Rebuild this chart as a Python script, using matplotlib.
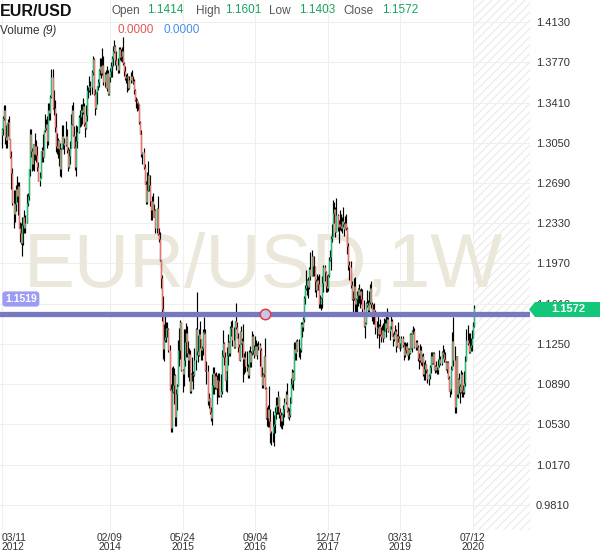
import numpy as np
import pandas as pd
import matplotlib
matplotlib.use("Agg")
import matplotlib.pyplot as plt
from matplotlib.patches import Polygon

plt.rcParams['font.family'] = ['Liberation Sans', 'DejaVu Sans']
plt.rcParams['hatch.linewidth'] = 0.7

# weekly EUR/USD candles, first week starts 2012-03-11
first_week = "2012-03-11"
first_open = 1.3115
last_open = 1.1414

highs = [
    # 2012
    1.3185, 1.3290, 1.3385, 1.3385, 1.3210, 1.3230, 1.3265, 1.3285, 1.3080, 1.2975, 1.2825, 1.2625, 1.2625, 1.2670, 1.2750,
    1.2695, 1.2695, 1.2345, 1.2330, 1.2390, 1.2390, 1.2445, 1.2400, 1.2590, 1.2600, 1.2815, 1.3170, 1.3170, 1.3000, 1.3040,
    1.3040, 1.3140, 1.3075, 1.3020, 1.2875, 1.2785, 1.2980, 1.3010, 1.3130, 1.3165, 1.3310, 1.3265, 1.3290,
    # 2013
    1.3405, 1.3405, 1.3480, 1.3710, 1.3710, 1.3520, 1.3435, 1.3320, 1.3135, 1.3095, 1.3075, 1.3050, 1.3000, 1.3205, 1.3210,
    1.3095, 1.3245, 1.3175, 1.3010, 1.2995, 1.3065, 1.3305, 1.3390, 1.3415, 1.3200, 1.3110, 1.3205, 1.3200, 1.3295, 1.3345,
    1.3395, 1.3400, 1.3450, 1.3410, 1.3235, 1.3385, 1.3570, 1.3545, 1.3645, 1.3605, 1.3705, 1.3830, 1.3810, 1.3530, 1.3505,
    1.3560, 1.3620, 1.3710, 1.3810, 1.3810, 1.3895, 1.3830,
    # 2014
    1.3685, 1.3700, 1.3740, 1.3700, 1.3640, 1.3715, 1.3775, 1.3825, 1.3915, 1.3967, 1.3925, 1.3875, 1.3810, 1.3905, 1.3905,
    1.3885, 1.3905, 1.3995, 1.3775, 1.3735, 1.3665, 1.3675, 1.3650, 1.3645, 1.3680, 1.3700, 1.3650, 1.3620, 1.3530, 1.3455,
    1.3445, 1.3415, 1.3395, 1.3245, 1.3160, 1.2970, 1.3000, 1.2860, 1.2705, 1.2790, 1.2885, 1.2765, 1.2765, 1.2530, 1.2575,
    1.2600, 1.2500, 1.2455, 1.2470, 1.2570, 1.2285, 1.2250,
    # 2015
    1.2000, 1.1870, 1.1680, 1.1425, 1.1535, 1.1450, 1.1450, 1.1390, 1.1240, 1.0890, 1.1045, 1.1050, 1.1035, 1.0985, 1.0850,
    1.0890, 1.1290, 1.1390, 1.1465, 1.1445, 1.1030, 1.1385, 1.1385, 1.1435, 1.1410, 1.1280, 1.1215, 1.1195, 1.0990, 1.1130,
    1.1010, 1.1215, 1.1390, 1.1715, 1.1330, 1.1385, 1.1460, 1.1295, 1.1230, 1.1385, 1.1495, 1.1385, 1.1095, 1.1060, 1.0810,
    1.0770, 1.0690, 1.0980, 1.1045, 1.1045, 1.0990, 1.0995,
    # 2016
    1.0970, 1.0990, 1.0990, 1.0985, 1.1200, 1.1375, 1.1265, 1.1180, 1.1010, 1.1220, 1.1340, 1.1275, 1.1410, 1.1455, 1.1465,
    1.1400, 1.1460, 1.1615, 1.1450, 1.1350, 1.1250, 1.1370, 1.1415, 1.1300, 1.1428, 1.1165, 1.1185, 1.1185, 1.1075, 1.1195,
    1.1235, 1.1185, 1.1365, 1.1340, 1.1240, 1.1325, 1.1285, 1.1255, 1.1280, 1.1255, 1.1215, 1.1040, 1.0990, 1.1145, 1.1300,
    1.0865, 1.0685, 1.0700, 1.0875, 1.0670, 1.0475, 1.0650,
    # 2017
    1.0615, 1.0685, 1.0775, 1.0775, 1.0830, 1.0765, 1.0680, 1.0640, 1.0630, 1.0700, 1.0765, 1.0825, 1.0905, 1.0690, 1.0680,
    1.0780, 1.0945, 1.1025, 1.1020, 1.1265, 1.1265, 1.1285, 1.1295, 1.1295, 1.1215, 1.1445, 1.1445, 1.1490, 1.1680, 1.1775,
    1.1910, 1.1830, 1.1850, 1.1940, 1.2070, 1.2090, 1.2040, 1.2035, 1.1950, 1.1830, 1.1880, 1.1860, 1.1880, 1.1690, 1.1670,
    1.1860, 1.1960, 1.1960, 1.1900, 1.1865, 1.1880, 1.2025,
    # 2018
    1.2090, 1.2215, 1.2325, 1.2535, 1.2520, 1.2475, 1.2555, 1.2415, 1.2355, 1.2445, 1.2410, 1.2390, 1.2475, 1.2345, 1.2395,
    1.2415, 1.2295, 1.2155, 1.1995, 1.1995, 1.1810, 1.1725, 1.1840, 1.1850, 1.1665, 1.1720, 1.1750, 1.1790, 1.1745, 1.1750,
    1.1745, 1.1640, 1.1450, 1.1625, 1.1735, 1.1645, 1.1720, 1.1790, 1.1815, 1.1625, 1.1610, 1.1620, 1.1550, 1.1455, 1.1500,
    1.1425, 1.1470, 1.1400, 1.1420, 1.1440, 1.1485, 1.1470,
    # 2019
    1.1500, 1.1570, 1.1490, 1.1415, 1.1515, 1.1470, 1.1345, 1.1370, 1.1420, 1.1380, 1.1340, 1.1450, 1.1325, 1.1255, 1.1325,
    1.1325, 1.1265, 1.1265, 1.1255, 1.1265, 1.1215, 1.1215, 1.1350, 1.1350, 1.1375, 1.1410, 1.1390, 1.1285, 1.1285, 1.1245,
    1.1165, 1.1250, 1.1235, 1.1160, 1.1165, 1.1085, 1.1110, 1.1075, 1.1025, 1.0985, 1.1060, 1.1175, 1.1180, 1.1175, 1.1180,
    1.1065, 1.1095, 1.1045, 1.1115, 1.1200, 1.1145, 1.1185,
    # 2020
    1.1240, 1.1205, 1.1175, 1.1100, 1.1095, 1.1095, 1.0965, 1.0850, 1.1055, 1.1355, 1.1495, 1.1235, 1.1145, 1.1145, 1.0950,
    1.0990, 1.0895, 1.1020, 1.1000, 1.0880, 1.1010, 1.1140, 1.1385, 1.1420, 1.1350, 1.1350, 1.1305, 1.1375, 1.1450, 1.1601,
]

lows = [
    # 2012
    1.3000, 1.3115, 1.3250, 1.3035, 1.3005, 1.3000, 1.3110, 1.3080, 1.2910, 1.2640, 1.2495, 1.2290, 1.2345, 1.2440, 1.2520,
    1.2405, 1.2290, 1.2165, 1.2145, 1.2040, 1.2135, 1.2240, 1.2240, 1.2330, 1.2480, 1.2535, 1.2750, 1.2925, 1.2800, 1.2805,
    1.2800, 1.2900, 1.2880, 1.2800, 1.2705, 1.2660, 1.2735, 1.2880, 1.2880, 1.2920, 1.3150, 1.3160, 1.3000,
    # 2013
    1.3030, 1.3255, 1.3255, 1.3450, 1.3355, 1.3300, 1.3145, 1.2965, 1.2950, 1.2910, 1.2845, 1.2750, 1.2745, 1.2995, 1.2995,
    1.2950, 1.3020, 1.2955, 1.2795, 1.2820, 1.2860, 1.3005, 1.3205, 1.3110, 1.3000, 1.2805, 1.2755, 1.3005, 1.3135, 1.3190,
    1.3200, 1.3220, 1.3310, 1.3200, 1.3105, 1.3175, 1.3245, 1.3450, 1.3500, 1.3480, 1.3490, 1.3660, 1.3480, 1.3295, 1.3355,
    1.3400, 1.3520, 1.3545, 1.3660, 1.3625, 1.3655, 1.3570,
    # 2014
    1.3545, 1.3540, 1.3510, 1.3480, 1.3475, 1.3590, 1.3640, 1.3640, 1.3735, 1.3855, 1.3750, 1.3705, 1.3675, 1.3675, 1.3790,
    1.3780, 1.3775, 1.3750, 1.3650, 1.3615, 1.3585, 1.3505, 1.3520, 1.3530, 1.3585, 1.3590, 1.3580, 1.3490, 1.3420, 1.3365,
    1.3335, 1.3340, 1.3220, 1.3125, 1.2920, 1.2860, 1.2815, 1.2680, 1.2500, 1.2500, 1.2620, 1.2615, 1.2480, 1.2360, 1.2355,
    1.2390, 1.2390, 1.2245, 1.2245, 1.2225, 1.2165, 1.1990,
    # 2015
    1.1755, 1.1460, 1.1115, 1.1095, 1.1270, 1.1270, 1.1315, 1.1175, 1.0840, 1.0460, 1.0460, 1.0815, 1.0710, 1.0520, 1.0520,
    1.0660, 1.0870, 1.1050, 1.1115, 1.1010, 1.0820, 1.0870, 1.1050, 1.1135, 1.1130, 1.0955, 1.0915, 1.0810, 1.0810, 1.0915,
    1.0850, 1.0960, 1.1020, 1.1155, 1.1085, 1.1140, 1.1215, 1.1105, 1.1105, 1.1155, 1.1335, 1.1010, 1.0895, 1.0705, 1.0675,
    1.0620, 1.0560, 1.0525, 1.0800, 1.0805, 1.0850, 1.0850,
    # 2016
    1.0710, 1.0775, 1.0775, 1.0780, 1.0805, 1.1135, 1.1065, 1.0930, 1.0830, 1.0820, 1.1060, 1.1145, 1.1145, 1.1325, 1.1235,
    1.1215, 1.1215, 1.1385, 1.1305, 1.1180, 1.1110, 1.1100, 1.1250, 1.1130, 1.0912, 1.0985, 1.0995, 1.1005, 1.0950, 1.0950,
    1.1045, 1.1045, 1.1150, 1.1160, 1.1125, 1.1155, 1.1150, 1.1120, 1.1200, 1.1050, 1.0965, 1.0860, 1.0860, 1.0955, 1.0850,
    1.0580, 1.0520, 1.0505, 1.0505, 1.0365, 1.0350, 1.0375,
    # 2017
    1.0340, 1.0455, 1.0580, 1.0620, 1.0620, 1.0590, 1.0520, 1.0495, 1.0490, 1.0525, 1.0600, 1.0715, 1.0645, 1.0590, 1.0570,
    1.0600, 1.0720, 1.0860, 1.0840, 1.0925, 1.1110, 1.1110, 1.1190, 1.1130, 1.1120, 1.1175, 1.1310, 1.1370, 1.1450, 1.1610,
    1.1730, 1.1690, 1.1660, 1.1740, 1.1825, 1.1860, 1.1855, 1.1860, 1.1715, 1.1670, 1.1730, 1.1730, 1.1575, 1.1575, 1.1555,
    1.1570, 1.1715, 1.1810, 1.1715, 1.1715, 1.1720, 1.1850,
    # 2018
    1.1990, 1.1915, 1.2165, 1.2215, 1.2335, 1.2205, 1.2250, 1.2260, 1.2155, 1.2270, 1.2260, 1.2240, 1.2300, 1.2215, 1.2275,
    1.2270, 1.2055, 1.1910, 1.1825, 1.1750, 1.1645, 1.1510, 1.1645, 1.1540, 1.1510, 1.1525, 1.1590, 1.1620, 1.1575, 1.1610,
    1.1530, 1.1405, 1.1300, 1.1430, 1.1585, 1.1530, 1.1525, 1.1610, 1.1570, 1.1460, 1.1430, 1.1430, 1.1335, 1.1300, 1.1330,
    1.1215, 1.1325, 1.1265, 1.1310, 1.1270, 1.1305, 1.1365,
    # 2019
    1.1310, 1.1390, 1.1360, 1.1290, 1.1385, 1.1320, 1.1235, 1.1275, 1.1335, 1.1175, 1.1225, 1.1270, 1.1210, 1.1185, 1.1215,
    1.1225, 1.1110, 1.1135, 1.1170, 1.1150, 1.1105, 1.1115, 1.1160, 1.1205, 1.1180, 1.1335, 1.1210, 1.1195, 1.1200, 1.1100,
    1.1025, 1.1090, 1.1065, 1.1050, 1.0965, 1.0925, 1.0925, 1.0990, 1.0905, 1.0880, 1.0940, 1.0990, 1.1075, 1.1070, 1.1015,
    1.0990, 1.0995, 1.0980, 1.0980, 1.1040, 1.1065, 1.1065,
    # 2020
    1.1125, 1.1085, 1.1085, 1.1020, 1.0990, 1.0940, 1.0825, 1.0780, 1.0800, 1.1020, 1.1055, 1.0635, 1.0635, 1.0775, 1.0770,
    1.0815, 1.0725, 1.0810, 1.0780, 1.0775, 1.0805, 1.0870, 1.1095, 1.1240, 1.1170, 1.1170, 1.1185, 1.1185, 1.1305, 1.1403,
]

closes = [
    # 2012
    1.3175, 1.3275, 1.3345, 1.3105, 1.3075, 1.3225, 1.3235, 1.3080, 1.2920, 1.2780, 1.2515, 1.2415, 1.2505, 1.2640, 1.2570,
    1.2665, 1.2290, 1.2245, 1.2155, 1.2315, 1.2385, 1.2290, 1.2335, 1.2510, 1.2575, 1.2815, 1.3130, 1.2975, 1.2860, 1.3040,
    1.2950, 1.3025, 1.2940, 1.2830, 1.2710, 1.2745, 1.2975, 1.2985, 1.2925, 1.3160, 1.3180, 1.3220, 1.3065,
    # 2013
    1.3345, 1.3315, 1.3460, 1.3635, 1.3365, 1.3360, 1.3190, 1.3020, 1.3005, 1.3075, 1.2990, 1.2815, 1.2995, 1.3110, 1.3045,
    1.3030, 1.3110, 1.2985, 1.2835, 1.2935, 1.3005, 1.3220, 1.3345, 1.3120, 1.3010, 1.2830, 1.3065, 1.3145, 1.3280, 1.3280,
    1.3345, 1.3325, 1.3380, 1.3220, 1.3180, 1.3295, 1.3525, 1.3525, 1.3555, 1.3545, 1.3685, 1.3800, 1.3485, 1.3365, 1.3500,
    1.3555, 1.3590, 1.3705, 1.3740, 1.3675, 1.3745, 1.3590,
    # 2014
    1.3665, 1.3540, 1.3675, 1.3485, 1.3635, 1.3695, 1.3740, 1.3805, 1.3875, 1.3915, 1.3790, 1.3750, 1.3700, 1.3885, 1.3815,
    1.3830, 1.3870, 1.3760, 1.3695, 1.3630, 1.3635, 1.3645, 1.3540, 1.3610, 1.3645, 1.3595, 1.3605, 1.3525, 1.3430, 1.3430,
    1.3410, 1.3400, 1.3240, 1.3130, 1.2950, 1.2965, 1.2830, 1.2685, 1.2520, 1.2625, 1.2760, 1.2670, 1.2525, 1.2445, 1.2525,
    1.2390, 1.2450, 1.2285, 1.2465, 1.2230, 1.2190, 1.2000,
    # 2015
    1.1840, 1.1565, 1.1205, 1.1290, 1.1315, 1.1390, 1.1380, 1.1195, 1.0845, 1.0495, 1.0820, 1.0885, 1.0970, 1.0600, 1.0805,
    1.0870, 1.1200, 1.1200, 1.1445, 1.1015, 1.0985, 1.1110, 1.1265, 1.1350, 1.1165, 1.1105, 1.1160, 1.0830, 1.0985, 1.0985,
    1.0970, 1.1105, 1.1385, 1.1185, 1.1150, 1.1335, 1.1295, 1.1200, 1.1215, 1.1360, 1.1350, 1.1015, 1.1005, 1.0740, 1.0770,
    1.0645, 1.0590, 1.0885, 1.0990, 1.0865, 1.0965, 1.0860,
    # 2016
    1.0925, 1.0915, 1.0795, 1.0830, 1.1155, 1.1255, 1.1130, 1.0930, 1.1005, 1.1155, 1.1265, 1.1165, 1.1390, 1.1400, 1.1285,
    1.1225, 1.1455, 1.1405, 1.1305, 1.1225, 1.1110, 1.1365, 1.1255, 1.1275, 1.1120, 1.1135, 1.1050, 1.1040, 1.0975, 1.1175,
    1.1085, 1.1165, 1.1325, 1.1195, 1.1155, 1.1230, 1.1150, 1.1230, 1.1240, 1.1200, 1.0965, 1.0885, 1.0985, 1.1140, 1.0855,
    1.0585, 1.0590, 1.0665, 1.0560, 1.0450, 1.0455, 1.0515,
    # 2017
    1.0530, 1.0645, 1.0700, 1.0695, 1.0785, 1.0640, 1.0615, 1.0560, 1.0620, 1.0670, 1.0735, 1.0800, 1.0650, 1.0595, 1.0615,
    1.0725, 1.0895, 1.0995, 1.0930, 1.1205, 1.1165, 1.1280, 1.1195, 1.1195, 1.1195, 1.1425, 1.1400, 1.1470, 1.1665, 1.1755,
    1.1775, 1.1820, 1.1760, 1.1925, 1.1860, 1.2035, 1.1945, 1.1950, 1.1815, 1.1730, 1.1820, 1.1785, 1.1605, 1.1610, 1.1665,
    1.1795, 1.1935, 1.1895, 1.1765, 1.1750, 1.1865, 1.2005,
    # 2018
    1.2030, 1.2200, 1.2220, 1.2425, 1.2460, 1.2250, 1.2405, 1.2295, 1.2320, 1.2305, 1.2290, 1.2350, 1.2320, 1.2280, 1.2330,
    1.2290, 1.2130, 1.1960, 1.1940, 1.1775, 1.1655, 1.1660, 1.1770, 1.1610, 1.1655, 1.1685, 1.1745, 1.1685, 1.1720, 1.1655,
    1.1565, 1.1410, 1.1435, 1.1620, 1.1600, 1.1550, 1.1625, 1.1755, 1.1605, 1.1525, 1.1560, 1.1510, 1.1400, 1.1390, 1.1335,
    1.1415, 1.1335, 1.1315, 1.1375, 1.1305, 1.1370, 1.1440,
    # 2019
    1.1395, 1.1470, 1.1365, 1.1410, 1.1455, 1.1325, 1.1295, 1.1335, 1.1365, 1.1235, 1.1325, 1.1300, 1.1215, 1.1215, 1.1300,
    1.1245, 1.1150, 1.1200, 1.1235, 1.1155, 1.1205, 1.1170, 1.1335, 1.1210, 1.1370, 1.1370, 1.1225, 1.1270, 1.1220, 1.1125,
    1.1110, 1.1200, 1.1090, 1.1145, 1.0985, 1.1030, 1.1075, 1.1015, 1.0940, 1.0975, 1.1040, 1.1145, 1.1080, 1.1165, 1.1020,
    1.1050, 1.1020, 1.1015, 1.1060, 1.1120, 1.1080, 1.1175,
    # 2020
    1.1160, 1.1120, 1.1090, 1.1025, 1.1090, 1.0945, 1.0830, 1.0845, 1.1025, 1.1280, 1.1105, 1.0690, 1.1140, 1.0805, 1.0935,
    1.0875, 1.0820, 1.0985, 1.0840, 1.0820, 1.0900, 1.1100, 1.1290, 1.1255, 1.1175, 1.1220, 1.1245, 1.1300, 1.1414, 1.1572,
]

price_ticks = [1.4130, 1.3770, 1.3410, 1.3050, 1.2690, 1.2330, 1.1970, 1.1610,
               1.1250, 1.0890, 1.0530, 1.0170, 0.9810]
date_ticks = ["2012-03-11", "2014-02-09", "2015-05-24", "2016-09-04",
              "2017-12-17", "2019-03-31", "2020-07-12"]

level_line = 1.1519      # horizontal line drawn on the chart
level_handle = "2016-11-06"
volume_up, volume_down = "0.0000", "0.0000"

GREEN = '#20c27a'
RED = '#f2706b'
TXT_GREEN = '#17a35f'

weeks = pd.date_range(first_week, periods=len(closes), freq="7D")
highs = np.array(highs)
lows = np.array(lows)
closes = np.array(closes)
opens = np.r_[first_open, closes[:-1]]
opens[-1] = last_open
xs = np.arange(len(closes))
up = closes >= opens

fig = plt.figure(figsize=(6, 5.58), dpi=100)
ax = fig.add_axes([0, 28 / 558, 530 / 600, 530 / 558])
ax.set_xlim(-1.48, 487.6)
ax.set_ylim(0.9586, 1.4327)

# grid + future (empty) area
ax.set_axisbelow(True)
ax.grid(color='#efefef', lw=0.8)
ax.axvspan(xs[-1] - 0.6, 487.6, facecolor='none', edgecolor='#e8e8e8', hatch='////', lw=0, zorder=0.5)

# watermark
ax.text(0.497, 0.459, 'EUR/USD,1W', transform=ax.transAxes, ha='center', va='baseline',
        fontsize=55, color='#ebe7da', zorder=0.6)

# candles
ax.vlines(xs, lows, highs, color='black', lw=0.85, zorder=2)
ax.vlines(xs[up], opens[up], closes[up], color=GREEN, lw=0.95, zorder=3)
ax.vlines(xs[~up], closes[~up], opens[~up], color=RED, lw=0.95, zorder=3)

# user horizontal line with its handle
ax.axhline(level_line, color='#7878c0', lw=3.8, zorder=4)
hx = weeks.get_loc(pd.Timestamp(level_handle))
ax.plot(hx, level_line, 'o', ms=7.5, mfc='#c6c6ec', mec='#e53b3b', mew=1.1, zorder=5)

# axes styling
for s in ax.spines.values():
    s.set_visible(False)
ax.yaxis.tick_right()
ax.set_yticks(price_ticks)
ax.set_yticklabels([f'{p:.4f}' for p in price_ticks])
tick_idx = [weeks.get_loc(pd.Timestamp(d)) for d in date_ticks]
ax.set_xticks(tick_idx)
ax.set_xticklabels([weeks[i].strftime('%m/%d\n%Y') for i in tick_idx], linespacing=0.85)
ax.tick_params(axis='y', length=0, pad=4.3, labelsize=8, labelcolor='#333333')
ax.tick_params(axis='x', length=0, pad=2, labelsize=7.4, labelcolor='#333333')
ax.get_xticklabels()[0].set_horizontalalignment('left')


def px(x, y):
    return x / 600, 1 - y / 558


# header
fig.text(*px(0, 11), 'EUR/USD', fontsize=11.5, fontweight='bold', va='center', color='#111111')
vals = {'Open': opens[-1], 'High': highs[-1], 'Low': lows[-1], 'Close': closes[-1]}
name_x = {'Open': 112, 'High': 196, 'Low': 269, 'Close': 343}
val_x = {'Open': 147, 'High': 225, 'Low': 299, 'Close': 382}
for name in vals:
    fig.text(*px(name_x[name], 11), name, fontsize=8.5, color='#555555', va='center')
    fig.text(*px(val_x[name], 10), f'{vals[name]:.4f}', fontsize=8.5, color=TXT_GREEN, va='center')
fig.text(*px(0, 31), 'Volume ', fontsize=8.5, color='#333333', va='center')
fig.text(*px(42, 31), '(9)', fontsize=8.5, color='#333333', va='center', style='italic')
fig.text(*px(117, 30), volume_up, fontsize=8.5, color='#e05656', va='center')
fig.text(*px(163, 30), volume_down, fontsize=8.5, color='#4a8fe6', va='center')

# level label on the left
fig.text(*px(5, 299), f'{level_line:.4f}', fontsize=7.5, fontweight='bold', color='white', va='center',
         bbox=dict(boxstyle='round,pad=0.25,rounding_size=0.3', fc='#9c9cf4', ec='none'))

# last price tag on the price scale
tag = [px(529, 309.5), px(535, 302), px(600, 302), px(600, 317), px(535, 317)]
fig.patches.append(Polygon(tag, closed=True, transform=fig.transFigure, fc='#12c779', ec='none', zorder=5))
fig.text(*px(568, 309.5), f'{closes[-1]:.4f}', fontsize=8, fontweight='bold', color='white',
         ha='center', va='center', zorder=6)

fig.savefig('out.png', dpi=100)
